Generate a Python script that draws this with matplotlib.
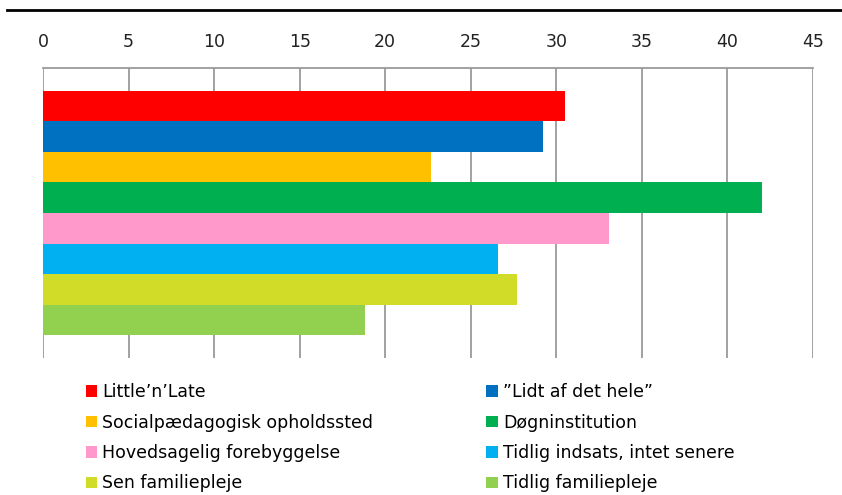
import matplotlib
matplotlib.use("Agg")
import matplotlib.pyplot as plt
from matplotlib.lines import Line2D
from matplotlib.patches import Patch

plt.rcParams["font.family"] = ["DejaVu Sans"]

# Data
series = [
    "Little\u2019n\u2019Late",
    "\u201dLidt af det hele\u201d",
    "Socialp\u00e6dagogisk opholdssted",
    "D\u00f8gninstitution",
    "Hovedsagelig forebyggelse",
    "Tidlig indsats, intet senere",
    "Sen familiepleje",
    "Tidlig familiepleje",
]
values = [30.5, 29.2, 22.7, 42.0, 33.1, 26.6, 27.7, 18.8]
colors = ["#FF0000", "#0070C0", "#FFC000", "#00B050",
          "#FF99CC", "#00B0F0", "#D0DC28", "#92D050"]
xticks = [0, 5, 10, 15, 20, 25, 30, 35, 40, 45]

fig = plt.figure(figsize=(8.42, 4.95), dpi=100)
ax = fig.add_axes([43 / 842, 1 - 358 / 495, 770 / 842, 290 / 495])

y = list(range(len(values)))
ax.barh(y, values, height=1.0, color=colors, zorder=3)

ax.set_xlim(0, 45)
ax.set_ylim(8.25, -1.25)
ax.set_xticks(xticks)
ax.set_yticks([])
ax.xaxis.tick_top()
ax.tick_params(axis="x", length=0, pad=12.5, labelsize=12.5, colors="#222222")
ax.grid(axis="x", color="#9a9a9a", linewidth=1.3, zorder=1)

for side in ["left", "right", "bottom"]:
    ax.spines[side].set_visible(False)
ax.spines["top"].set_color("#9a9a9a")
ax.spines["top"].set_linewidth(1.3)

# black rule at the top
fig.add_artist(Line2D([7 / 842, 1.0], [1 - 10 / 495, 1 - 10 / 495],
                      color="black", linewidth=2))

# legend, row-major order in two columns
handles = [Patch(facecolor=c, edgecolor="none") for c in colors]
order = [0, 2, 4, 6, 1, 3, 5, 7]
fig.legend([handles[i] for i in order], [series[i] for i in order],
           ncol=2, loc="upper left", bbox_to_anchor=(86 / 842, 1 - 383 / 495),
           frameon=False, fontsize=12.5, handlelength=0.65, handleheight=0.65,
           handletextpad=0.3, labelspacing=0.72, columnspacing=6.5,
           borderaxespad=0, borderpad=0)

fig.savefig("out.png", dpi=100)
